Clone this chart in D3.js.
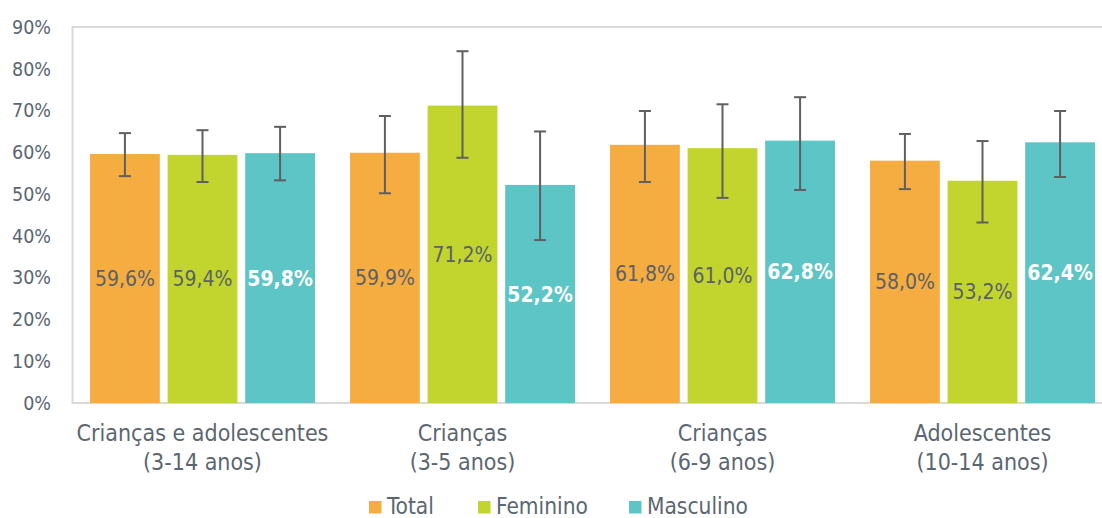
<!DOCTYPE html>
<html><head><meta charset="utf-8">
<script src="https://cdn.jsdelivr.net/npm/d3@7"></script>
<style>
html,body{margin:0;padding:0;background:#fff;}
svg{display:block;}
text{font-family:"DejaVu Sans Condensed","DejaVu Sans",sans-serif;}
</style></head>
<body>
<svg id="chart" width="1102" height="518"></svg>
<script>
// ---- data ----
const categories = [
  ["Crianças e adolescentes", "(3-14 anos)"],
  ["Crianças", "(3-5 anos)"],
  ["Crianças", "(6-9 anos)"],
  ["Adolescentes", "(10-14 anos)"]
];
const seriesNames = ["Total", "Feminino", "Masculino"];
const totalValues     = [59.6, 59.9, 61.8, 58.0];
const femininoValues  = [59.4, 71.2, 61.0, 53.2];
const masculinoValues = [59.8, 52.2, 62.8, 62.4];
const totalLow  = [54.3, 50.2, 52.9, 51.2];
const totalHigh = [64.6, 68.7, 69.9, 64.4];
const femininoLow  = [52.9, 58.7, 49.1, 43.2];
const femininoHigh = [65.3, 84.2, 71.5, 62.7];
const masculinoLow  = [53.3, 39.0, 51.0, 54.1];
const masculinoHigh = [66.1, 65.0, 73.2, 69.9];
const yTicks = [0, 10, 20, 30, 40, 50, 60, 70, 80, 90];

const colors = ["#F5AD42", "#C2D52F", "#5EC5C6"];
const labelColors = ["#5B6168", "#5B6168", "#FFFFFF"];
const labelWeights = ["normal", "normal", "bold"];
const textColor = "#5B6670";

const seriesValues = [totalValues, femininoValues, masculinoValues];
const seriesLow = [totalLow, femininoLow, masculinoLow];
const seriesHigh = [totalHigh, femininoHigh, masculinoHigh];

const rows = [];
categories.forEach((c, i) => {
  seriesNames.forEach((s, j) => {
    rows.push({cat: i, s: j, v: seriesValues[j][i], lo: seriesLow[j][i], hi: seriesHigh[j][i]});
  });
});

const svg = d3.select("#chart");
const plot = {left: 72.5, right: 1112.5, top: 27, bottom: 403};

const x0 = d3.scaleBand().domain(d3.range(categories.length)).range([plot.left, plot.right]).padding(0);
const x1 = d3.scaleBand().domain(d3.range(seriesNames.length)).range([17.5, x0.bandwidth() - 17.5]).paddingInner(0.1);
const y = d3.scaleLinear().domain([0, 90]).range([plot.bottom, plot.top]);

// frame
svg.append("rect")
  .attr("x", plot.left).attr("y", plot.top)
  .attr("width", plot.right - plot.left).attr("height", plot.bottom - plot.top)
  .attr("fill", "none").attr("stroke", "#D9D9D9").attr("stroke-width", 2);

// y axis
const yAxis = d3.axisLeft(y).tickValues(yTicks).tickFormat(d => d + "%").tickSize(0).tickPadding(0);
const gy = svg.append("g").attr("transform", `translate(51,0)`).call(yAxis);
gy.select(".domain").remove();
gy.selectAll("text").attr("fill", textColor).style("font-size", "19.5px")
  .style("font-family", '"DejaVu Sans Condensed","DejaVu Sans",sans-serif');

// bars
const g = svg.append("g");
g.selectAll("rect.bar").data(rows).join("rect")
  .attr("class", "bar")
  .attr("x", d => x0(d.cat) + x1(d.s))
  .attr("width", x1.bandwidth())
  .attr("y", d => y(d.v))
  .attr("height", d => y(0) - y(d.v))
  .attr("fill", d => colors[d.s]);

// error bars
const eb = g.selectAll("g.err").data(rows).join("g").attr("class", "err")
  .attr("stroke", "#5F5F5F").attr("stroke-width", 2);
const cx = d => x0(d.cat) + x1(d.s) + x1.bandwidth() / 2;
eb.append("line").attr("x1", cx).attr("x2", cx).attr("y1", d => y(d.hi)).attr("y2", d => y(d.lo));
eb.append("line").attr("x1", d => cx(d) - 6).attr("x2", d => cx(d) + 6).attr("y1", d => y(d.hi)).attr("y2", d => y(d.hi));
eb.append("line").attr("x1", d => cx(d) - 6).attr("x2", d => cx(d) + 6).attr("y1", d => y(d.lo)).attr("y2", d => y(d.lo));

// value labels
g.selectAll("text.val").data(rows).join("text")
  .attr("class", "val")
  .attr("x", cx)
  .attr("y", d => (y(d.v) + y(0)) / 2)
  .attr("dy", "0.36em")
  .attr("text-anchor", "middle")
  .attr("fill", d => labelColors[d.s])
  .attr("font-weight", d => labelWeights[d.s])
  .style("font-size", "21px")
  .text(d => d.v.toFixed(1).replace(".", ",") + "%");

// category labels
const cl = svg.append("g").selectAll("text").data(categories).join("text")
  .attr("x", (d, i) => x0(i) + x0.bandwidth() / 2)
  .attr("y", 441)
  .attr("text-anchor", "middle")
  .attr("fill", textColor)
  .style("font-size", "23px");
cl.selectAll("tspan").data(d => d).join("tspan")
  .attr("x", function() { return d3.select(this.parentNode).attr("x"); })
  .attr("dy", (d, i) => i === 0 ? 0 : 29)
  .text(d => d);

// legend
const legendX = [369, 478, 629];
const lg = svg.append("g").selectAll("g").data(seriesNames).join("g")
  .attr("transform", (d, i) => `translate(${legendX[i]},501)`);
lg.append("rect").attr("width", 12.5).attr("height", 12.5).attr("fill", (d, i) => colors[i]);
lg.append("text").attr("x", 18).attr("y", 12.5).attr("fill", textColor)
  .style("font-size", "22.5px").text(d => d);
</script>
</body></html>
